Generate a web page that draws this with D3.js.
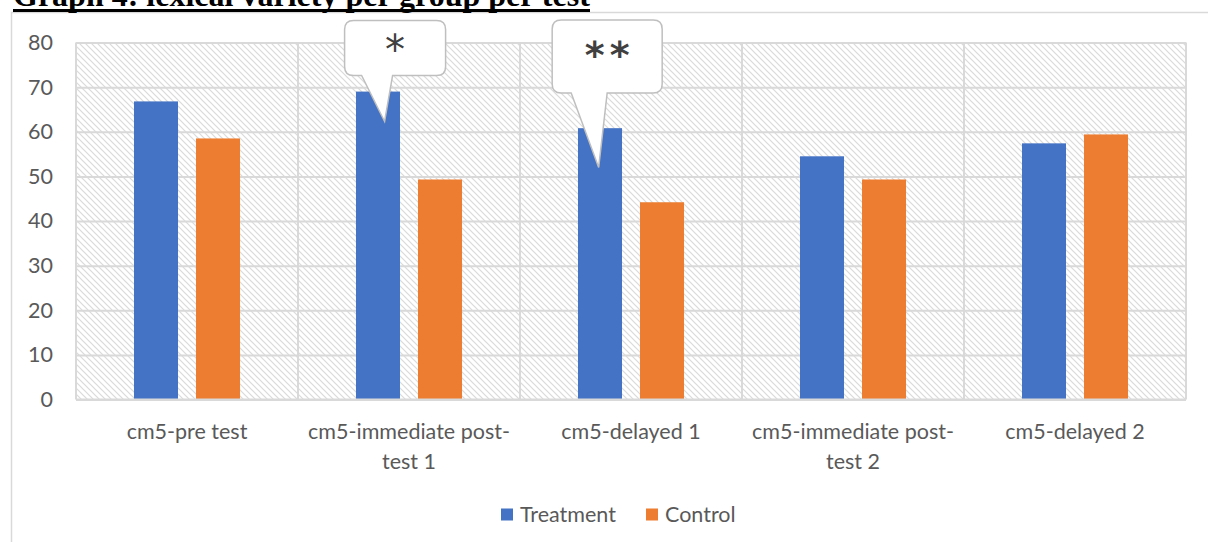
<!DOCTYPE html>
<html>
<head>
<meta charset="utf-8">
<script src="https://cdn.jsdelivr.net/npm/d3@7"></script>
<style>
  html, body { margin: 0; padding: 0; background: #ffffff; }
  svg { display: block; }
</style>
</head>
<body>
<svg id="chart" width="1208" height="542"></svg>
<script>
// ---------- data ----------
const categories = ["cm5-pre test", "cm5-immediate post-test 1", "cm5-delayed 1", "cm5-immediate post-test 2", "cm5-delayed 2"];
const categoryLabelLines = [["cm5-pre test"], ["cm5-immediate post-", "test 1"], ["cm5-delayed 1"], ["cm5-immediate post-", "test 2"], ["cm5-delayed 2"]];
const seriesNames = ["Treatment", "Control"];
const treatmentValues = [66.8, 69.0, 60.8, 54.5, 57.4];
const controlValues = [58.5, 49.3, 44.2, 49.3, 59.4];
const yTickValues = [0, 10, 20, 30, 40, 50, 60, 70, 80];
const titleText = "Graph 4: lexical variety per group per test";
const annotations = [
  { category: "cm5-immediate post-test 1", series: "Treatment", label: "*", tipValue: 62.3 },
  { category: "cm5-delayed 1", series: "Treatment", label: "**", tipValue: 52.0 }
];

// ---------- setup ----------
const W = 1208, H = 542;
const plot = { left: 76, right: 1186, top: 42.5, bottom: 399.5 };
const colors = { Treatment: "#4472C4", Control: "#ED7D31" };
const gridColor = "#d9d9d9";
const textColor = "#595959";
const labelFont = "Lato, 'Open Sans', sans-serif";

const svg = d3.select("#chart");

const x0 = d3.scaleBand().domain(categories).range([plot.left, plot.right]).paddingInner(0).paddingOuter(0);
const x1 = d3.scaleBand().domain(seriesNames).range([0, x0.bandwidth()]).paddingInner(0.29).paddingOuter(0.935);
const y = d3.scaleLinear().domain([0, 80]).range([plot.bottom, plot.top]);

const rows = categories.map((c, i) => ({ category: c, Treatment: treatmentValues[i], Control: controlValues[i] }));

// hatch pattern
const defs = svg.append("defs");
const pat = defs.append("pattern")
  .attr("id", "hatch").attr("patternUnits", "userSpaceOnUse")
  .attr("width", 6).attr("height", 6);
pat.append("rect").attr("width", 6).attr("height", 6).attr("fill", "#ffffff");
pat.append("path")
  .attr("d", "M-1,-1 L7,7 M-1,5 L1,7 M5,-1 L7,1")
  .attr("stroke", "#dadada").attr("stroke-width", 1.2).attr("fill", "none");

// outer chart border
svg.append("path")
  .attr("d", `M11.5,${H + 2} L11.5,12.5 L${W + 2},12.5`)
  .attr("fill", "none").attr("stroke", gridColor).attr("stroke-width", 1.5);

// title
const title = svg.append("text")
  .attr("x", 13).attr("y", 6)
  .attr("font-family", "'Liberation Serif', 'Times New Roman', serif")
  .attr("font-weight", "bold").attr("font-size", 26)
  .attr("fill", "#000000")
  .text(titleText);
const tl = title.node().getComputedTextLength();
title.attr("font-size", 26 * 577 / tl);
svg.append("rect").attr("x", 13).attr("y", 9).attr("width", 577).attr("height", 3).attr("fill", "#000000");

// plot background hatch
svg.append("rect")
  .attr("x", plot.left).attr("y", plot.top)
  .attr("width", plot.right - plot.left).attr("height", plot.bottom - plot.top)
  .attr("fill", "url(#hatch)");

// horizontal grid
const yAxisG = svg.append("g").attr("transform", `translate(${plot.left},0)`)
  .call(d3.axisLeft(y).tickValues(yTickValues).tickSize(-(plot.right - plot.left)).tickPadding(23).tickFormat(d3.format("d")));
yAxisG.select(".domain").remove();
yAxisG.selectAll(".tick line").attr("stroke", gridColor).attr("stroke-width", 2);
yAxisG.selectAll(".tick text")
  .attr("fill", textColor).attr("font-family", labelFont).attr("font-size", 21.5);

// vertical category separators
svg.append("g").selectAll("line")
  .data(categories.concat(["__end"]))
  .join("line")
  .attr("x1", d => d === "__end" ? plot.right : x0(d))
  .attr("x2", d => d === "__end" ? plot.right : x0(d))
  .attr("y1", plot.top).attr("y2", plot.bottom)
  .attr("stroke", gridColor).attr("stroke-width", 2);

// bars
const groups = svg.append("g").selectAll("g")
  .data(rows).join("g")
  .attr("transform", d => `translate(${x0(d.category)},0)`);
groups.selectAll("rect")
  .data(d => seriesNames.map(s => ({ series: s, value: d[s] })))
  .join("rect")
  .attr("x", d => x1(d.series))
  .attr("width", x1.bandwidth())
  .attr("y", d => y(d.value))
  .attr("height", d => y(0) - y(d.value))
  .attr("fill", d => colors[d.series]);

// x axis baseline
svg.append("line")
  .attr("x1", plot.left).attr("x2", plot.right)
  .attr("y1", plot.bottom).attr("y2", plot.bottom)
  .attr("stroke", gridColor).attr("stroke-width", 2);

// x axis labels
const xl = svg.append("g").selectAll("text")
  .data(categories).join("text")
  .attr("x", d => x0(d) + x0.bandwidth() / 2)
  .attr("y", 439)
  .attr("text-anchor", "middle")
  .attr("fill", textColor).attr("font-family", labelFont).attr("font-size", 21.5);
xl.each(function (d, i) {
  d3.select(this).selectAll("tspan")
    .data(categoryLabelLines[i]).join("tspan")
    .attr("x", x0(d) + x0.bandwidth() / 2)
    .attr("dy", (t, j) => j === 0 ? 0 : 29.5)
    .text(t => t);
});

// callouts
const calloutStyles = [
  { boxDX: -40, boxW: 101, boxTopFromTip: -101, boxH: 55, baseL: -23, baseR: 8, fontSize: 40, weight: "normal", textDY: 34, tipFrac: 0.65, spacing: 0 },
  { boxDX: -46.5, boxW: 110, boxTopFromTip: -147.5, boxH: 73, baseL: -27.5, baseR: 8.5, fontSize: 38, weight: "bold", textDY: 38, tipFrac: 0.47, spacing: 5 }
];
annotations.forEach((a, i) => {
  const st = calloutStyles[i];
  const tipX = x0(a.category) + x1(a.series) + x1.bandwidth() * st.tipFrac;
  const tipY = y(a.tipValue);
  const bx = tipX + st.boxDX, by = tipY + st.boxTopFromTip, bw = st.boxW, bh = st.boxH, r = 9;
  const pL = tipX + st.baseL, pR = tipX + st.baseR;
  const d = [
    `M${bx + r},${by}`,
    `L${bx + bw - r},${by}`,
    `Q${bx + bw},${by} ${bx + bw},${by + r}`,
    `L${bx + bw},${by + bh - r}`,
    `Q${bx + bw},${by + bh} ${bx + bw - r},${by + bh}`,
    `L${pR},${by + bh}`,
    `L${tipX},${tipY}`,
    `L${pL},${by + bh}`,
    `L${bx + r},${by + bh}`,
    `Q${bx},${by + bh} ${bx},${by + bh - r}`,
    `L${bx},${by + r}`,
    `Q${bx},${by} ${bx + r},${by}`,
    "Z"
  ].join(" ");
  svg.append("path").attr("d", d)
    .attr("fill", "#ffffff").attr("stroke", "#bfbfbf").attr("stroke-width", 1.5);
  svg.append("text")
    .attr("x", bx + bw / 2 + st.spacing / 2).attr("y", by + st.textDY + 10)
    .attr("text-anchor", "middle")
    .attr("font-family", "'DejaVu Sans', sans-serif")
    .attr("font-size", st.fontSize).attr("font-weight", st.weight)
    .attr("letter-spacing", st.spacing)
    .attr("fill", "#404040")
    .text(a.label);
});

// legend
const legendItems = [
  { name: "Treatment", x: 501 },
  { name: "Control", x: 646 }
];
const lg = svg.append("g").selectAll("g").data(seriesNames).join("g")
  .attr("transform", (d, i) => `translate(${legendItems[i].x},0)`);
lg.append("rect").attr("x", 0).attr("y", 508.5).attr("width", 12).attr("height", 12)
  .attr("fill", d => colors[d]);
lg.append("text").attr("x", 19).attr("y", 521.5)
  .attr("fill", textColor).attr("font-family", labelFont).attr("font-size", 21.5)
  .text(d => d);
</script>
</body>
</html>
